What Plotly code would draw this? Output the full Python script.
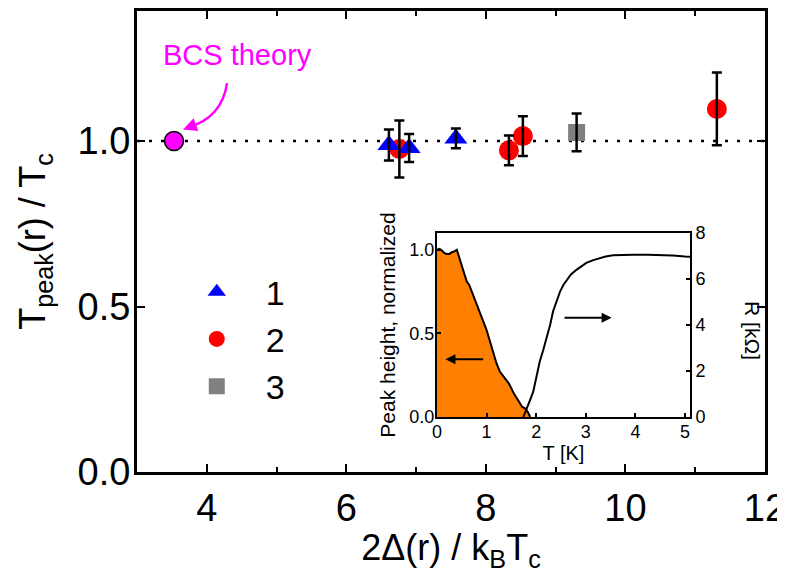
import plotly.graph_objects as go

# ---- main data ----
s1_x = [6.61, 6.90, 7.57]
s1_y = [0.988, 0.979, 1.008]
s1_e = [0.047, 0.042, 0.030]

s2_x = [6.76, 8.33, 8.53, 11.31]
s2_y = [0.976, 0.972, 1.015, 1.097]
s2_e = [0.086, 0.045, 0.060, 0.110]

s3_x = [9.30]
s3_y = [1.026]
s3_e = [0.057]

bcs_x = [3.53]
bcs_y = [1.0]

# ---- inset data ----
ph_T = [0.0, 0.05, 0.1, 0.15, 0.2, 0.25, 0.3, 0.35, 0.4, 0.45, 0.5, 0.55, 0.6, 0.65, 0.7,
        0.8, 0.9, 1.0, 1.1, 1.15, 1.2, 1.27, 1.35, 1.45, 1.55, 1.65, 1.72, 1.78, 1.83, 1.88]
ph_h = [1.00, 1.005, 0.995, 0.98, 0.975, 0.975, 0.985, 0.99, 1.00, 0.95, 0.90, 0.85, 0.81, 0.79, 0.75,
        0.68, 0.60, 0.52, 0.42, 0.37, 0.32, 0.27, 0.24, 0.20, 0.14, 0.09, 0.06, 0.05, 0.03, 0.0]

R_T = [1.74, 1.80, 1.87, 1.94, 2.0, 2.07, 2.14, 2.21, 2.28, 2.34, 2.41, 2.48, 2.55, 2.61, 2.7,
       2.81, 2.9, 3.01, 3.15, 3.28, 3.4, 3.55, 3.75, 3.96, 4.25, 4.5, 4.75, 5.0, 5.1]
R_k = [0.0, 0.3, 0.7, 1.1, 1.7, 2.4, 2.9, 3.4, 4.0, 4.6, 5.0, 5.45, 5.75, 5.95, 6.2,
       6.4, 6.55, 6.7, 6.82, 6.92, 6.98, 7.03, 7.05, 7.06, 7.06, 7.05, 7.02, 6.98, 6.97]

FONT = "Arial, Liberation Sans, sans-serif"

fig = go.Figure()

# markers
fig.add_trace(go.Scatter(x=s3_x, y=s3_y, mode="markers", name="3", legendrank=3,
                         marker=dict(symbol="square", size=17, color="#808080")))
fig.add_trace(go.Scatter(x=s2_x, y=s2_y, mode="markers", name="2", legendrank=2,
                         marker=dict(symbol="circle", size=20, color="#FF0000")))
fig.add_trace(go.Scatter(x=s1_x, y=s1_y, mode="markers", name="1", legendrank=1,
                         marker=dict(symbol="triangle-up", size=20, color="#0000FF")))
# error bars on top
for xs, ys, es in [(s3_x, s3_y, s3_e), (s2_x, s2_y, s2_e), (s1_x, s1_y, s1_e)]:
    fig.add_trace(go.Scatter(x=xs, y=ys, mode="markers", showlegend=False, hoverinfo="skip",
                             marker=dict(size=1, color="rgba(0,0,0,0)"),
                             error_y=dict(type="data", array=es, visible=True,
                                          color="black", thickness=2.5, width=5)))
# BCS point
fig.add_trace(go.Scatter(x=bcs_x, y=bcs_y, mode="markers", showlegend=False,
                         marker=dict(symbol="circle", size=19, color="#FF00FF",
                                     line=dict(color="black", width=1.5))))

# inset
fig.add_trace(go.Scatter(x=ph_T, y=ph_h, mode="lines", fill="tozeroy", fillcolor="#FF8000",
                         line=dict(color="black", width=2), xaxis="x2", yaxis="y2",
                         showlegend=False))
fig.add_trace(go.Scatter(x=R_T, y=R_k, mode="lines", line=dict(color="black", width=2),
                         xaxis="x2", yaxis="y3", showlegend=False))

axis_common = dict(showline=True, linecolor="black", mirror="ticks", ticks="inside",
                   tickcolor="black", showgrid=False, zeroline=False, automargin=False)
inset_common = dict(showline=True, linecolor="black", ticks="inside", tickcolor="black",
                    showgrid=False, zeroline=False, automargin=False,
                    linewidth=2, ticklen=4, tickwidth=1.5, tickfont=dict(size=18))

# page body has an 8px margin: figure is offset by (8, 8)
fig.update_layout(
    template="none",
    width=777, height=565,
    margin=dict(l=129, r=20, t=3, b=101, autoexpand=False),
    paper_bgcolor="white", plot_bgcolor="white",
    font=dict(family=FONT, color="black"),
    xaxis=dict(range=[2.9999, 12.0001], tickvals=[4, 6, 8, 10, 12], linewidth=3, ticklen=8, tickwidth=2,
               minor=dict(tickvals=[5, 7, 9, 11], ticklen=5, tickwidth=2, ticks="inside", tickcolor="black"),
               tickfont=dict(size=38), ticklabelstandoff=0, ticklabeloverflow="allow",
               title=dict(text="2Δ(r) / k<sub>B</sub>T<sub>c</sub>", font=dict(size=36), standoff=4),
               **axis_common),
    yaxis=dict(range=[0, 1.393], tickvals=[0, 0.5, 1.0], ticktext=["0.0", "0.5", "1.0"],
               linewidth=3, ticklen=8, tickwidth=2,
               tickfont=dict(size=38), ticklabelstandoff=-4,
               title=dict(text="T<sub>peak</sub>(r) / T<sub>c</sub>", font=dict(size=36), standoff=21),
               **axis_common),
    xaxis2=dict(domain=[0.4777, 0.8806], anchor="y2", range=[0, 5.1], dtick=1, mirror=True,
                ticklabelstandoff=-3,
                title=dict(text="T [K]", font=dict(size=20), standoff=0),
                **inset_common),
    yaxis2=dict(domain=[0.1193, 0.5184], anchor="x2", range=[0, 1.1], mirror=True,
                tickvals=[0, 0.5, 1.0], ticktext=["0.0", "0.5", "1.0"], ticklabelstandoff=-3,
                title=dict(text="Peak height, normalized", font=dict(size=21), standoff=8),
                **inset_common),
    yaxis3=dict(domain=[0.1193, 0.5184], anchor="x2", overlaying="y2", side="right",
                range=[0, 8], dtick=2, **inset_common),
    legend=dict(x=0.049, y=0.453, xanchor="left", yanchor="top", bgcolor="rgba(0,0,0,0)",
                font=dict(size=34), itemwidth=88, traceorder="normal"),
    showlegend=True,
)

# dotted reference line at y = 1
fig.add_shape(type="line", xref="x domain", yref="y", x0=0, x1=1, y0=1, y1=1,
              line=dict(color="black", width=2.5, dash="3px,9px"), layer="below")

# BCS annotation with curved arrow
fig.add_annotation(text="BCS theory", x=4.44, y=1.26, xref="x", yref="y", showarrow=False,
                   font=dict(size=29, color="#FF00FF", family=FONT))
fig.add_shape(type="path", xref="x", yref="y",
              path="M 4.29,1.175 Q 4.22,1.07 3.72,1.04",
              line=dict(color="#FF00FF", width=2.5))
fig.add_annotation(x=3.66, y=1.035, ax=3.85, ay=1.05, xref="x", yref="y", axref="x", ayref="y",
                   text="", showarrow=True, arrowhead=2, arrowsize=1.1, arrowwidth=2.5,
                   arrowcolor="#FF00FF")

# inset arrows
fig.add_annotation(x=0.17, y=0.346, ax=0.96, ay=0.346, xref="x2", yref="y2", axref="x2", ayref="y2",
                   text="", showarrow=True, arrowhead=2, arrowsize=1, arrowwidth=2, arrowcolor="black")
fig.add_annotation(x=3.52, y=0.594, ax=2.54, ay=0.594, xref="x2", yref="y2", axref="x2", ayref="y2",
                   text="", showarrow=True, arrowhead=2, arrowsize=1, arrowwidth=2, arrowcolor="black")
# right inset axis title (rotated +90)
fig.add_annotation(text="R [kΩ]", textangle=90, xref="x2 domain", yref="y2 domain",
                   x=1.30, y=0.47, showarrow=False, font=dict(size=21, family=FONT))

fig.write_html("out.html")
